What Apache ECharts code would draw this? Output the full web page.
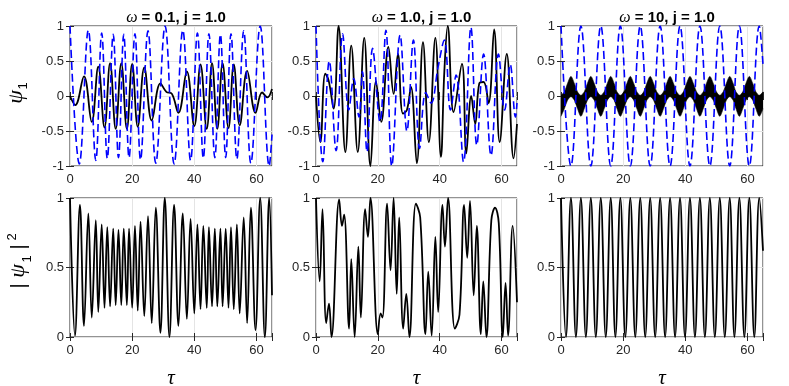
<!DOCTYPE html>
<html>
<head>
<meta charset="utf-8">
<script src="https://cdn.jsdelivr.net/npm/echarts@6/dist/echarts.min.js"></script>
<style>
  html, body { margin: 0; padding: 0; background: #fff; }
  #chart { width: 789px; height: 386px; }
</style>
</head>
<body>
<div id="chart"></div>
<script>
// ---- tick labels ----
const xTicks = [0, 20, 40, 60];
const yTicksTop = [-1, -0.5, 0, 0.5, 1];
const yTicksBottom = [0, 0.5, 1];
const titles = ['ω = 0.1, j = 1.0', 'ω = 1.0, j = 1.0', 'ω = 10, j = 1.0'];

// ---- omega = 0.1 (extrema) ----
const tauSolidA = [0, 1.7, 4.5, 7.0, 9.1, 11.1, 12.9, 14.7, 16.5, 18.3, 20.0, 21.8, 23.9, 26.3, 29.1, 31.0, 32.8, 34.9, 37.6, 40.0, 42.0, 44.0, 45.7, 47.4, 49.1, 51.0, 52.7, 54.6, 57.0, 59.7, 61.8, 63.5, 65];
const solidA = [0, -0.13, 0.28, -0.37, 0.42, -0.45, 0.47, -0.47, 0.47, -0.47, 0.46, -0.44, 0.41, -0.35, 0.18, 0.06, 0.03, -0.24, 0.35, -0.43, 0.45, -0.47, 0.47, -0.47, 0.47, -0.46, 0.45, -0.42, 0.36, -0.24, 0.05, -0.02, 0.1];
const tauDashedA = [0, 3.0, 5.9, 8.3, 10.2, 12.0, 13.9, 15.6, 17.3, 19.0, 20.9, 22.7, 25.1, 27.6, 30.6, 33.5, 36.3, 38.8, 41.0, 42.9, 44.7, 46.6, 48.4, 50.1, 51.8, 53.7, 55.9, 58.2, 61.2, 64.1, 65];
const dashedA = [1, -0.97, 0.94, -0.92, 0.9, -0.89, 0.88, -0.88, 0.88, -0.88, 0.89, -0.91, 0.93, -0.96, 1, -0.97, 0.94, -0.92, 0.9, -0.89, 0.89, -0.88, 0.88, -0.88, 0.89, -0.9, 0.93, -0.96, 1, -1, -0.55];
const tauProbA = [0, 1.6, 3.2, 4.5, 5.9, 7.0, 8.3, 9.1, 10.2, 11.1, 12.0, 12.9, 13.9, 14.7, 15.6, 16.5, 17.3, 18.3, 19.0, 20.0, 20.9, 21.8, 22.7, 23.9, 25.1, 26.3, 27.6, 29.1, 30.5, 32.0, 33.5, 34.9, 36.3, 37.6, 38.8, 40.0, 41.0, 42.0, 42.9, 44.0, 44.7, 45.7, 46.6, 47.4, 48.4, 49.1, 50.1, 51.0, 51.8, 52.7, 53.7, 54.6, 55.9, 57.0, 58.2, 59.7, 61.2, 62.7, 64.1, 65];
const probA = [1, 0.01, 0.95, 0.08, 0.89, 0.14, 0.84, 0.18, 0.81, 0.21, 0.79, 0.22, 0.78, 0.23, 0.77, 0.23, 0.78, 0.23, 0.78, 0.21, 0.8, 0.19, 0.83, 0.15, 0.87, 0.1, 0.93, 0.03, 1, 0, 0.95, 0.08, 0.89, 0.13, 0.85, 0.17, 0.81, 0.2, 0.8, 0.21, 0.79, 0.22, 0.78, 0.22, 0.78, 0.22, 0.78, 0.21, 0.79, 0.2, 0.81, 0.17, 0.86, 0.1, 0.93, 0.05, 1, 0, 1, 0.3];

// ---- omega = 1.0 ----
const tauSolidB = [0, 1.4, 3.0, 4.1, 5.7, 7.3, 9.5, 11.4, 13.5, 15.6, 17.6, 19.4, 21.1, 23.4, 25.1, 26.5, 28.1, 29.4, 30.7, 32.6, 34.6, 36.5, 38.6, 40.4, 41.5, 42.6, 44.5, 47.2, 48.6, 50.2, 51.5, 52.8, 54.2, 55.8, 57.6, 59.4, 61.7, 63.9, 65];
const solidB = [0, -0.66, 0.32, 0.22, -0.18, 1, -0.8, 0.72, -0.8, 0.83, -1, 0.21, -0.37, 0.7, 0.03, 0.6, -0.25, -0.2, 0.13, -0.96, 0.77, -0.66, 0.83, -0.87, 0.35, 1, -0.23, 0.46, -0.82, 0, -0.4, 0.18, 0.2, -0.1, 0.95, -0.66, 0.6, -0.89, -0.4];
const tauDashedB = [0, 2.2, 4.3, 6.5, 8.6, 10.6, 12.2, 13.9, 15.0, 16.5, 18.3, 20.7, 22.6, 24.5, 27.2, 29.4, 31.5, 33.5, 35.5, 37.2, 39.5, 41.5, 43.5, 45.3, 47.7, 50.1, 52.0, 54.2, 56.6, 59.0, 61.0, 62.8, 64.5, 65];
const dashedB = [1, -0.94, 0.5, -0.78, 0.89, -0.2, 0.25, -0.3, 0.35, -0.8, 0.68, -0.37, 0.94, -1, 0.87, -0.5, 0.8, -0.75, 0.05, -0.1, 0.42, 0.8, -0.2, 0.3, -0.94, 0.98, -0.7, 0.6, -0.85, 0.6, -0.2, 0.45, -0.3, -0.1];
const tauProbB = [0, 1.2, 2.1, 3.3, 4.2, 5.0, 7.5, 8.4, 9.1, 10.7, 11.4, 12.5, 13.7, 14.5, 15.9, 16.8, 17.6, 20.0, 20.9, 21.5, 23.0, 24.1, 25.1, 26.1, 26.9, 28.2, 29.2, 30.2, 32.3, 33.7, 35.4, 36.3, 37.4, 38.6, 39.5, 40.9, 41.7, 42.7, 44.9, 46.4, 47.9, 48.9, 49.8, 51.0, 52.0, 53.3, 54.1, 55.1, 56.7, 57.9, 59.1, 60.4, 61.3, 62.1, 63.6, 65];
const probB = [1, 0.4, 0.92, 0.1, 0.24, 0, 0.99, 0.8, 0.88, 0.06, 0.56, 0, 0.65, 0.14, 0.92, 0.72, 1, 0.02, 0.17, 0.14, 0.96, 0.48, 1, 0.31, 0.86, 0.06, 0.31, 0, 0.96, 0.86, 0.02, 0.47, 0.01, 0.72, 0.18, 0.95, 0.65, 1, 0.06, 0.16, 0.95, 0.57, 0.98, 0.3, 0.8, 0.02, 0.4, 0, 0.84, 0.93, 0.82, 0, 0.39, 0.01, 0.8, 0.25];

// ---- omega = 10 ----
const tauC = [0, 3.2, 6.4, 9.6, 12.8, 16.0, 19.1, 22.3, 25.5, 28.7, 31.9, 35.1, 38.3, 41.5, 44.7, 47.9, 51.1, 54.3, 57.4, 60.6, 63.8, 65];
const dashedC = [1, -1, 1, -1, 1, -1, 1, -1, 1, -1, 1, -1, 1, -1, 1, -1, 1, -1, 1, -1, 1, 0.45];
// fast oscillation of the solid curve: upper and lower edge of the black band
const tauBandC = [0, 1.1, 2.1, 3.2, 4.3, 5.3, 6.4, 7.5, 8.5, 9.6, 10.7, 11.7, 12.8, 13.9, 14.9, 16.0, 17.1, 18.0, 19.1, 20.2, 21.2, 22.3, 23.4, 24.4, 25.5, 26.6, 27.6, 28.7, 29.8, 30.8, 31.9, 33.0, 34.0, 35.1, 36.2, 37.2, 38.3, 39.4, 40.4, 41.5, 42.6, 43.6, 44.7, 45.8, 46.8, 47.9, 49.0, 50.0, 51.1, 52.2, 53.2, 54.3, 55.4, 56.3, 57.4, 58.5, 59.5, 60.6, 61.7, 62.7, 63.8, 65];
const bandUpperC = [0.01, 0.06, 0.18, 0.28, 0.18, 0.06, 0.01, 0.06, 0.18, 0.28, 0.18, 0.06, 0.01, 0.06, 0.18, 0.28, 0.18, 0.06, 0.01, 0.06, 0.18, 0.28, 0.18, 0.06, 0.01, 0.06, 0.18, 0.28, 0.18, 0.06, 0.01, 0.06, 0.18, 0.28, 0.18, 0.06, 0.01, 0.06, 0.18, 0.28, 0.18, 0.06, 0.01, 0.06, 0.18, 0.28, 0.18, 0.06, 0.01, 0.06, 0.18, 0.28, 0.18, 0.06, 0.01, 0.06, 0.18, 0.28, 0.18, 0.06, 0.01, 0.06];
const bandLowerC = [-0.29, -0.18, -0.06, -0.01, -0.06, -0.18, -0.29, -0.18, -0.06, -0.01, -0.06, -0.18, -0.29, -0.18, -0.06, -0.01, -0.06, -0.18, -0.29, -0.18, -0.06, -0.01, -0.06, -0.18, -0.29, -0.18, -0.06, -0.01, -0.06, -0.18, -0.29, -0.18, -0.06, -0.01, -0.06, -0.18, -0.29, -0.18, -0.06, -0.01, -0.06, -0.18, -0.29, -0.18, -0.06, -0.01, -0.06, -0.18, -0.29, -0.18, -0.06, -0.01, -0.06, -0.18, -0.29, -0.18, -0.06, -0.01, -0.06, -0.18, -0.29, -0.18];
const tauProbC = [0, 1.6, 3.2, 4.8, 6.4, 8.0, 9.6, 11.2, 12.8, 14.4, 16.0, 17.5, 19.1, 20.7, 22.3, 23.9, 25.5, 27.1, 28.7, 30.3, 31.9, 33.5, 35.1, 36.7, 38.3, 39.9, 41.5, 43.1, 44.7, 46.3, 47.9, 49.5, 51.1, 52.7, 54.3, 55.8, 57.4, 59.0, 60.6, 62.2, 63.8, 65];
const probC = [1, 0, 1, 0, 1, 0, 1, 0, 1, 0, 1, 0, 1, 0, 1, 0, 1, 0, 1, 0, 1, 0, 1, 0, 1, 0, 1, 0, 1, 0, 1, 0, 1, 0, 1, 0, 1, 0, 1, 0, 1, 0.62];

const FONT = '"Liberation Sans", Arial, sans-serif';
const SERIF = '"Liberation Serif", "DejaVu Serif", serif';
const AXIS_COLOR = '#262626';

const cols = [
  { left: 70, width: 202 },
  { left: 316, width: 201 },
  { left: 561, width: 202 },
];
const rows = [
  { top: 26, height: 140, ticks: yTicksTop },
  { top: 198, height: 139, ticks: yTicksBottom },
];

const pair = (t, v) => t.map((x, i) => [x, v[i]]);

const grids = [];
const xAxes = [];
const yAxes = [];
rows.forEach((r) => {
  cols.forEach((c) => {
    const gi = grids.length;
    grids.push({
      left: c.left, top: r.top, width: c.width, height: r.height,
      show: true, borderColor: AXIS_COLOR, borderWidth: 1, backgroundColor: '#fff',
    });
    const tick = { inside: true, length: 4, lineStyle: { color: AXIS_COLOR } };
    xAxes.push({
      gridIndex: gi, type: 'value', position: 'bottom', min: 0, max: 65, interval: 20,
      axisLine: { show: false }, axisTick: tick,
      axisLabel: {
        color: AXIS_COLOR, fontSize: 13, fontFamily: FONT, margin: 7,
        formatter: (v) => (xTicks.includes(v) ? String(v) : ''),
      },
      splitLine: { show: true, lineStyle: { color: '#e4e4e4' } },
    });
    xAxes.push({
      gridIndex: gi, type: 'value', position: 'top', min: 0, max: 65, interval: 20,
      axisLine: { show: false }, axisTick: tick, axisLabel: { show: false }, splitLine: { show: false },
    });
    const ymin = r.ticks[0];
    const ymax = r.ticks[r.ticks.length - 1];
    yAxes.push({
      gridIndex: gi, type: 'value', position: 'left', min: ymin, max: ymax, interval: 0.5,
      axisLine: { show: false }, axisTick: tick,
      axisLabel: { color: AXIS_COLOR, fontSize: 13, fontFamily: FONT, margin: 6 },
      splitLine: { show: true, lineStyle: { color: '#e4e4e4' } },
    });
    yAxes.push({
      gridIndex: gi, type: 'value', position: 'right', min: ymin, max: ymax, interval: 0.5,
      axisLine: { show: false }, axisTick: tick, axisLabel: { show: false }, splitLine: { show: false },
    });
  });
});

function solid(gi, data) {
  return {
    type: 'line', xAxisIndex: gi * 2, yAxisIndex: gi * 2, data: data,
    symbol: 'none', smooth: 0.4, silent: true,
    lineStyle: { color: '#000', width: 1.8 },
  };
}
function dashed(gi, data) {
  return {
    type: 'line', xAxisIndex: gi * 2, yAxisIndex: gi * 2, data: data,
    symbol: 'none', smooth: 0.4, silent: true,
    lineStyle: { color: '#0000ff', width: 1.6, type: [8, 4] },
  };
}
function band(gi, data) {
  return {
    type: 'line', xAxisIndex: gi * 2, yAxisIndex: gi * 2, data: data,
    symbol: 'none', smooth: 0.3, silent: true,
    lineStyle: { color: '#000', width: 0.6 },
    areaStyle: { color: '#000', opacity: 1, origin: 0 },
  };
}

const series = [
  solid(0, pair(tauSolidA, solidA)),
  dashed(0, pair(tauDashedA, dashedA)),
  solid(1, pair(tauSolidB, solidB)),
  dashed(1, pair(tauDashedB, dashedB)),
  band(2, pair(tauBandC, bandUpperC)),
  band(2, pair(tauBandC, bandLowerC)),
  dashed(2, pair(tauC, dashedC)),
  solid(3, pair(tauProbA, probA)),
  solid(4, pair(tauProbB, probB)),
  solid(5, pair(tauProbC, probC)),
];

const txt = (x, y, text, font) => ({
  type: 'text', x: x, y: y,
  style: { text: text, font: font, fill: '#000', align: 'center', verticalAlign: 'middle', textAlign: 'center', textVerticalAlign: 'middle' },
});

const graphic = [
  {
    type: 'group', x: 16, y: 97, rotation: Math.PI / 2,
    children: [
      txt(0, 0, 'ψ', 'italic 22px ' + SERIF),
      txt(11, 7, '1', '13px ' + FONT),
    ],
  },
  {
    type: 'group', x: 19, y: 266, rotation: Math.PI / 2,
    children: [
      txt(-20, 0, '|', '20px ' + FONT),
      txt(-5, -1, 'ψ', 'italic 22px ' + SERIF),
      txt(7, 8, '1', '13px ' + FONT),
      txt(19, 0, '|', '20px ' + FONT),
      txt(29, -7, '2', '13px ' + FONT),
    ],
  },
];
cols.forEach((c) => {
  graphic.push(txt(c.left + c.width / 2, 378, 'τ', 'italic 21px ' + SERIF));
});

const chart = echarts.init(document.getElementById('chart'));
chart.setOption({
  animation: false,
  backgroundColor: '#fff',
  title: titles.map((t, i) => ({
    text: t.replace('ω', '{w|ω}'),
    left: cols[i].left + cols[i].width / 2,
    top: 5,
    textAlign: 'center',
    textStyle: {
      fontFamily: FONT, fontSize: 15, fontWeight: 'bold', color: '#000',
      rich: { w: { fontFamily: SERIF, fontStyle: 'italic', fontWeight: 'normal', fontSize: 16, color: '#000' } },
    },
  })),
  grid: grids,
  xAxis: xAxes,
  yAxis: yAxes,
  series: series,
  graphic: graphic,
});
</script>
</body>
</html>
